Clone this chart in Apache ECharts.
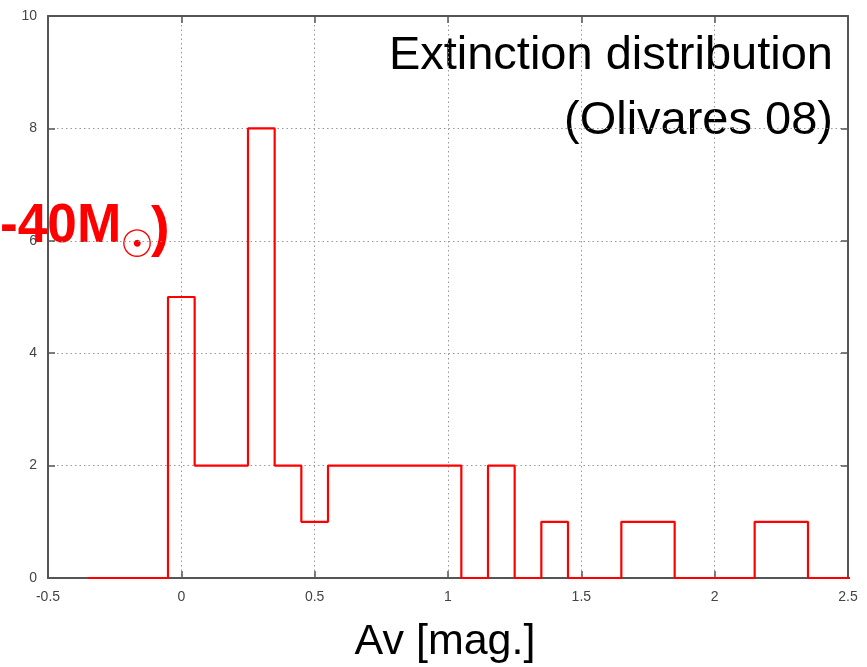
<!DOCTYPE html>
<html><head><meta charset="utf-8">
<script src="https://cdn.jsdelivr.net/npm/echarts@6/dist/echarts.min.js"></script>
<style>html,body{margin:0;padding:0;background:#fff}#c{width:867px;height:667px}</style>
</head><body><div id="c"></div>
<script>
// Bin centers (Av, mag) and counts
const binCenters = [-0.3,-0.2,-0.1,0,0.1,0.2,0.3,0.4,0.5,0.6,0.7,0.8,0.9,1.0,1.1,1.2,1.3,1.4,1.5,1.6,1.7,1.8,1.9,2.0,2.1,2.2,2.3,2.4,2.5];
const counts     = [0,0,0,5,2,2,8,2,1,2,2,2,2,2,0,2,0,1,0,0,1,1,0,0,0,1,1,0,0];
const binWidth = 0.1;
const xTicks = [-0.5,0,0.5,1,1.5,2,2.5];
const yTicks = [0,2,4,6,8,10];
const titleLines = ['Extinction distribution','(Olivares 08)'];
const xLabel = 'Av [mag.]';
const sideLabel = ['-40M', '☉', ')'];

const stepData = [];
binCenters.forEach((c,i)=>{
  stepData.push([+(c-binWidth/2).toFixed(3), counts[i]]);
  stepData.push([+(c+binWidth/2).toFixed(3), counts[i]]);
});

const axisCol = '#555';
const gridStyle = {show:true, lineStyle:{color:'#999', type:[1.5,3], width:1}};
const lblFont = {color:'#444', fontSize:14, fontFamily:'Arial, "Liberation Sans"'};
const chart = echarts.init(document.getElementById('c'), null, {renderer:'canvas'});
chart.setOption({
  animation:false,
  grid:{left:48, right:19, top:16, bottom:89, containLabel:false},
  xAxis:[{
    type:'value', min:-0.5, max:2.5, interval:0.5, position:'bottom',
    axisLine:{show:true, onZero:false, lineStyle:{color:axisCol, width:2}},
    axisTick:{show:true, inside:true, length:7, lineStyle:{color:axisCol, width:1.5}},
    axisLabel:Object.assign({margin:12, formatter:v=>String(v)}, lblFont),
    splitLine:gridStyle
  },{
    type:'value', min:-0.5, max:2.5, interval:0.5, position:'top',
    axisLine:{show:true, onZero:false, lineStyle:{color:axisCol, width:2}},
    axisTick:{show:true, inside:true, length:7, lineStyle:{color:axisCol, width:1.5}},
    axisLabel:{show:false}, splitLine:{show:false}
  }],
  yAxis:[{
    type:'value', min:0, max:10, interval:2, position:'left',
    axisLine:{show:true, onZero:false, lineStyle:{color:axisCol, width:2}},
    axisTick:{show:true, inside:true, length:7, lineStyle:{color:axisCol, width:1.5}},
    axisLabel:Object.assign({margin:11}, lblFont),
    splitLine:gridStyle
  },{
    type:'value', min:0, max:10, interval:2, position:'right',
    axisLine:{show:true, onZero:false, lineStyle:{color:axisCol, width:2}},
    axisTick:{show:true, inside:true, length:7, lineStyle:{color:axisCol, width:1.5}},
    axisLabel:{show:false}, splitLine:{show:false}
  }],
  series:[{
    type:'line', data:stepData, xAxisIndex:0, yAxisIndex:0,
    showSymbol:false, clip:true,
    lineStyle:{color:'#ff0000', width:2.2}
  }],
  graphic:[
    {type:'text', x:833, y:56, style:{x:0, y:0, text:titleLines[0], align:'right', verticalAlign:'middle',
      font:'47px Arial, "Liberation Sans"', fill:'#000'}},
    {type:'text', x:833, y:121, style:{x:0, y:0, text:titleLines[1], align:'right', verticalAlign:'middle',
      font:'47px Arial, "Liberation Sans"', fill:'#000'}},
    {type:'text', x:0, y:227, scaleX:0.95, style:{x:0, y:0, text:sideLabel[0], align:'left', verticalAlign:'middle',
      font:'bold 56px Arial, "Liberation Sans"', fill:'#ff0000'}},
    {type:'text', x:137, y:247, style:{x:0, y:0, text:sideLabel[1], align:'center', verticalAlign:'middle',
      font:'bold 38px "DejaVu Sans"', fill:'#ff0000'}},
    {type:'text', x:151, y:230, style:{x:0, y:0, text:sideLabel[2], align:'left', verticalAlign:'middle',
      font:'bold 56px Arial, "Liberation Sans"', fill:'#ff0000'}},
    {type:'text', x:445, y:642, style:{x:0, y:0, text:xLabel, align:'center', verticalAlign:'middle',
      font:'43px Arial, "Liberation Sans"', fill:'#000'}}
  ]
});
</script></body></html>
